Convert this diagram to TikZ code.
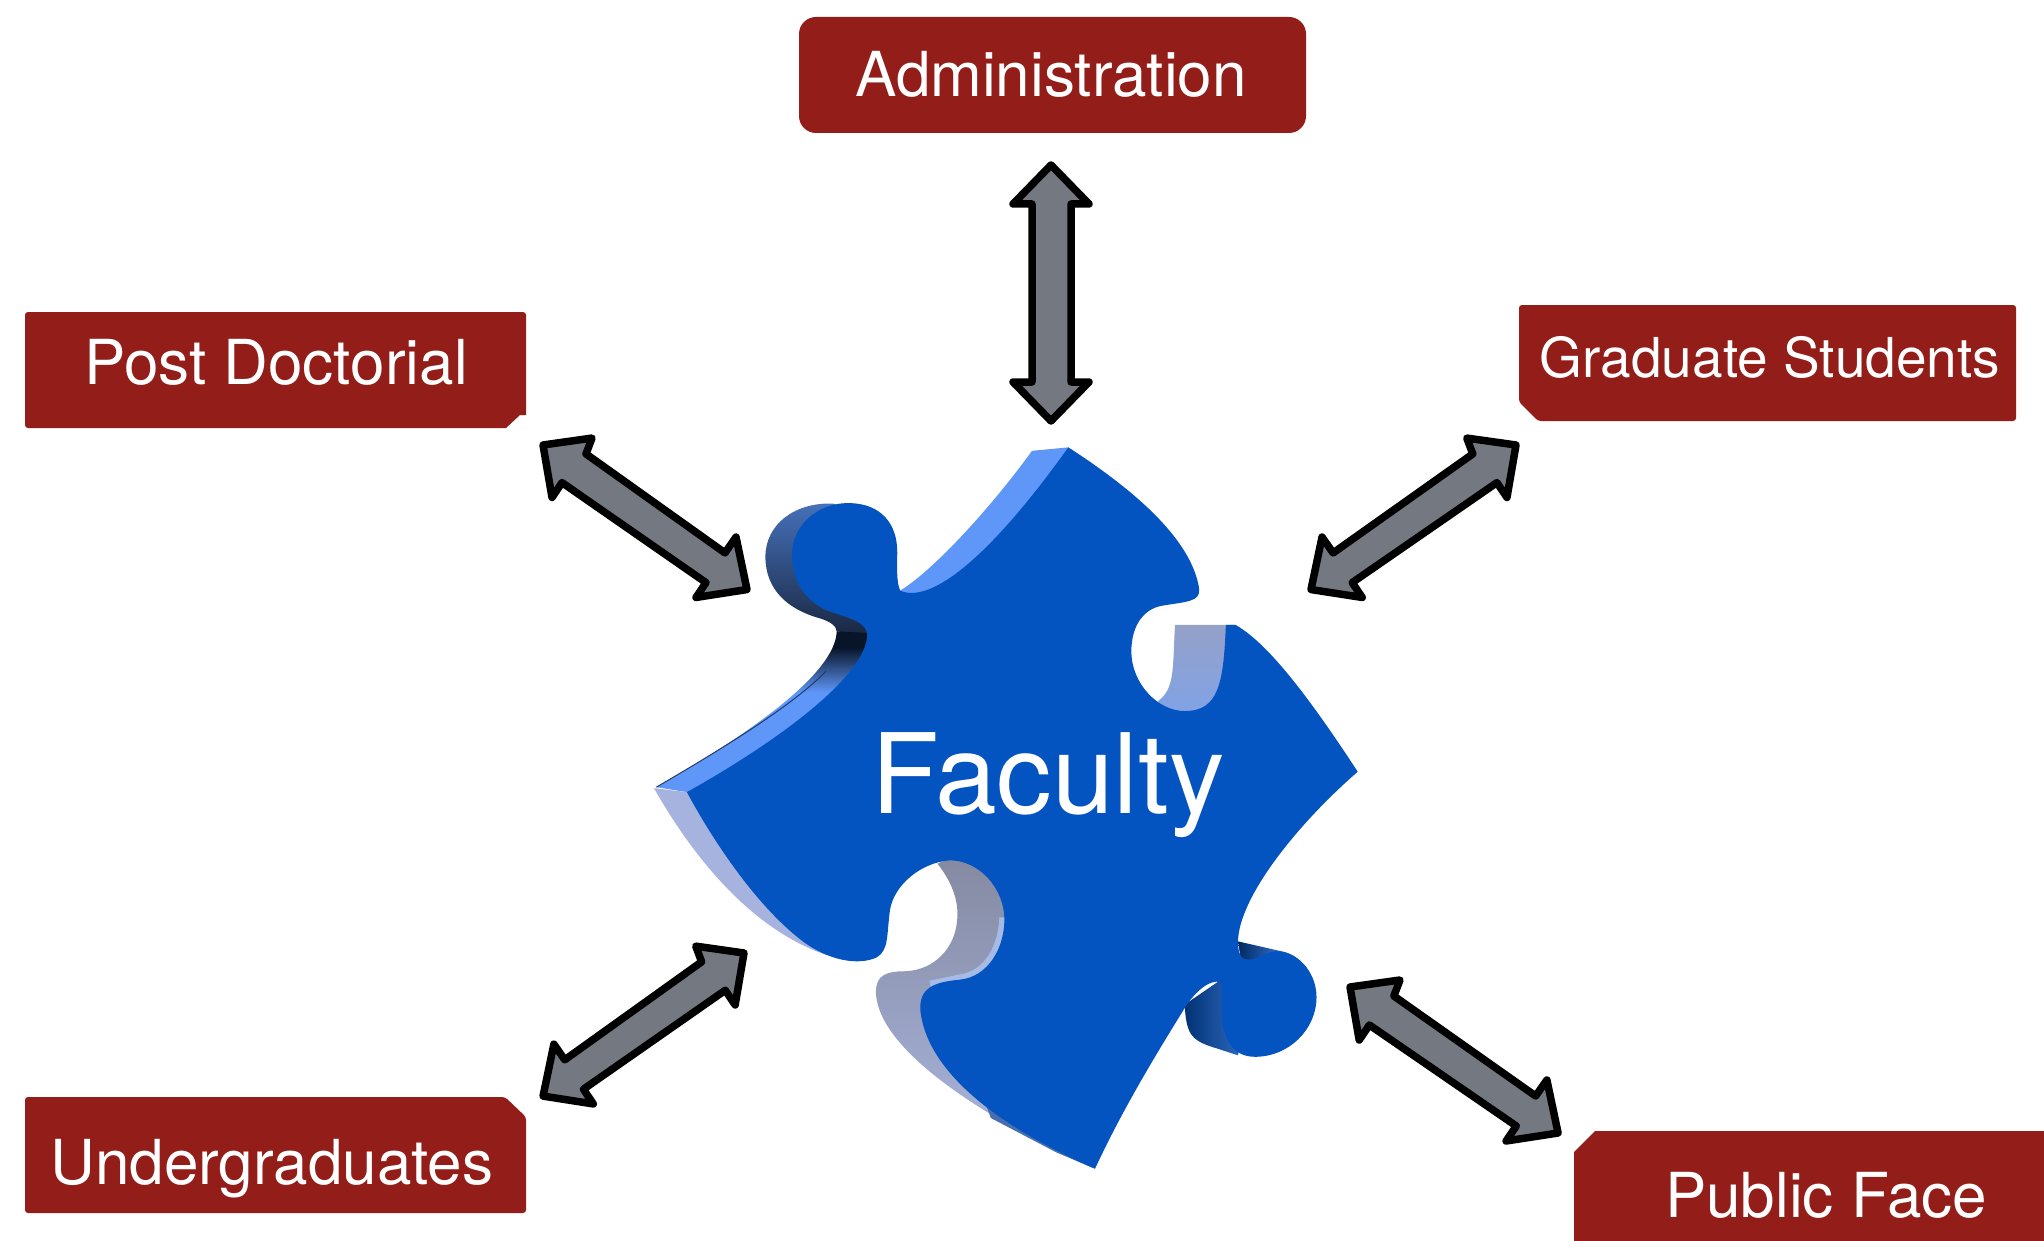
\documentclass[tikz,border=0pt]{standalone}
\usepackage{fontspec}
\setmainfont{TeX Gyre Heros}
\definecolor{boxred}{HTML}{931D18}
\definecolor{arrowgray}{HTML}{747880}
\definecolor{faceblue}{HTML}{0353C0}
\definecolor{wlight}{HTML}{5F97F9}
\definecolor{wdark}{HTML}{081428}
\definecolor{lav}{HTML}{A5B3DE}
\definecolor{notchtop}{HTML}{858AA2}
\definecolor{notchmid}{HTML}{95A2CF}
\definecolor{notchlow}{HTML}{AAB7E0}
\pgfdeclareverticalshading{wallUL}{100bp}{color(0bp)=(wlight);color(56bp)=(wlight);color(70bp)=(wdark);color(100bp)=(wdark)}
\tikzset{
  boxfill/.style={fill=boxred,draw=none,rounded corners=3pt},
  boxtext/.style={text=white,inner sep=0pt,anchor=base},
  blockarrow/.style={draw=black,fill=arrowgray,line width=7.5pt,line join=round}
}
% #1 start tip, #2 xscale, #3 yscale
\newcommand{\diagblock}[3]{%
  \begin{scope}[shift={(#1)},xscale=#2,yscale=#3]
    \path[blockarrow] (0,0) -- (49,-7) -- (43,9) -- (182,109) -- (193,93) -- (204,146)
      -- (153,154) -- (163,139) -- (19,38) -- (9,53) -- cycle;
  \end{scope}}
\begin{document}
\begin{tikzpicture}[x=1pt,y=-1pt]
\useasboundingbox (0,0) rectangle (2044,1241);
\fill[white] (0,0) rectangle (2044,1241);

% boxes
\path[fill=boxred,rounded corners=17pt] (799,17) rectangle (1306,133);
\node[boxtext,font=\fontsize{62}{70}\selectfont] (admin) at (1051,97) {Administration};

\path[boxfill] (25,312) -- (526,312) [sharp corners] -- (526,415) -- (520,415) -- (506,428) [rounded corners=3pt] -- (25,428) -- cycle;
\node[boxtext,font=\fontsize{62}{70}\selectfont] (post) at (276,384) {Post Doctorial};

\path[boxfill] (1519,305) -- (2016,305) -- (2016,421) -- (1538,421) -- (1519,402) -- cycle;
\node[boxtext,font=\fontsize{55}{64}\selectfont] (grad) at (1770,377) {Graduate Students};

\path[boxfill] (25,1097) -- (505,1097) -- (526,1117) -- (526,1213) -- (25,1213) -- cycle;
\node[boxtext,font=\fontsize{62}{70}\selectfont] (under) at (272,1184) {Undergraduates};

\path[fill=boxred] (1595,1131) -- (2044,1131) -- (2044,1241) -- (1574,1241) -- (1574,1152) -- cycle;
\node[boxtext,font=\fontsize{62}{70}\selectfont] (public) at (1826,1217) {Public Face};

% arrows
\coordinate (adminarrowtop) at (1051,165);
\coordinate (adminarrowbot) at (1051,421);
\path[blockarrow] (adminarrowtop) -- (1089,204) -- (1071,204) -- (1071,382) -- (1089,382)
  -- (adminarrowbot) -- (1013,382) -- (1032,382) -- (1032,204) -- (1013,204) -- cycle;
\coordinate (postarrow) at (543,445);
\diagblock{postarrow}{1.0}{0.99}
\coordinate (gradarrow) at (1516,445);
\diagblock{gradarrow}{-1.005}{0.99}
\coordinate (underarrow) at (744,953);
\diagblock{underarrow}{-0.985}{0.98}
\coordinate (publicarrow) at (1350,987);
\diagblock{publicarrow}{1.02}{1.0}

% puzzle piece
\begin{scope}[shift={(620,420)},x=0.4847pt,y=-0.4975pt]
  % top band
  \fill[wlight] (578,343) .. controls (650,300) and (770,170) .. (850,62) -- (925,55)
     -- (1000,200) -- (640,420) -- cycle;
  % upper-left tab wall
  \shade[top color=wlight!75!black,middle color=wlight,bottom color=wlight!25!black]
     (440,168) .. controls (360,165) and (300,210) .. (300,275)
     .. controls (300,340) and (345,380) .. (410,398)
     .. controls (435,405) and (447,415) .. (447,425)
     -- (560,440) -- (520,200) -- cycle;
  % lower-left wall (light, dark near the top)
  \shade[shading=wallUL]
     (447,425) .. controls (445,490) and (340,590) .. (75,738)
     -- (138,748) -- (400,700) -- (560,430) -- cycle;
  \draw[wdark!70!wlight,line width=1pt] (425,505) .. controls (360,570) and (230,650) .. (75,738);
  % left lavender wall
  \fill[lav] (70,740) .. controls (140,860) and (260,1020) .. (425,1075)
     -- (500,1000) -- (250,800) -- (138,748) -- cycle;
  % notch wall at the bottom, and the long lower wall
  \shade[top color=notchtop,middle color=notchmid,bottom color=notchlow]
     (655,892) .. controls (690,935) and (700,975) .. (695,1010)
     .. controls (690,1060) and (650,1105) .. (590,1108)
     .. controls (550,1108) and (528,1115) .. (528,1150)
     .. controls (530,1250) and (700,1380) .. (980,1505)
     -- (1000,1300) -- (880,1000) -- (850,900) -- (680,880) -- cycle;
  \fill[lav!50!faceblue!85!black] (755,1376) -- (765,1403) -- (900,1472) -- (975,1503) -- (850,1420) -- cycle;
  \draw[line width=8pt,draw=wlight!50!white,opacity=.7] (791,1000) .. controls (788,1060) and (760,1115) .. (700,1123) -- (640,1135);
  % right notch wall
  \shade[top color=lav!90!black,middle color=lav!60!black,bottom color=wlight!60!lav]
     (1145,412) .. controls (1140,500) and (1145,540) .. (1110,565)
     -- (1165,640) -- (1300,560) -- (1272,412) -- cycle;
  % lower-right tab walls
  \shade[left color=faceblue!60!black,right color=faceblue!70!lav]
     (1165,1175) .. controls (1168,1235) and (1180,1245) .. (1215,1258) -- (1275,1277)
     -- (1300,1150) -- (1240,1125) -- cycle;
  \shade[left color=faceblue!50!black,right color=wlight!60!faceblue]
     (1275,1048) -- (1365,1068) -- (1380,1120) -- (1285,1110) -- cycle;
  % face
  \fill[faceblue]
     (925,55) .. controls (1060,140) and (1180,240) .. (1195,340)
     .. controls (1197,365) and (1170,365) .. (1120,373)
     .. controls (1075,380) and (1055,420) .. (1055,465)
     .. controls (1055,530) and (1110,585) .. (1165,585)
     .. controls (1235,585) and (1245,530) .. (1250,412)
     -- (1270,412)
     .. controls (1340,450) and (1430,570) .. (1522,707)
     .. controls (1400,810) and (1275,960) .. (1275,1050)
     .. controls (1275,1085) and (1290,1088) .. (1310,1082)
     .. controls (1335,1072) and (1350,1065) .. (1365,1068)
     .. controls (1405,1075) and (1437,1115) .. (1437,1160)
     .. controls (1437,1225) and (1380,1280) .. (1310,1280)
     .. controls (1265,1280) and (1245,1245) .. (1242,1200)
     .. controls (1240,1170) and (1242,1150) .. (1240,1130)
     .. controls (1215,1122) and (1180,1155) .. (1160,1190)
     .. controls (1090,1300) and (1030,1400) .. (980,1505)
     .. controls (850,1450) and (640,1340) .. (620,1190)
     .. controls (615,1140) and (650,1130) .. (700,1125)
     .. controls (760,1120) and (793,1060) .. (793,1005)
     .. controls (793,940) and (740,885) .. (680,885)
     .. controls (620,890) and (565,935) .. (557,985)
     .. controls (550,1035) and (555,1065) .. (530,1080)
     .. controls (490,1098) and (430,1085) .. (380,1050)
     .. controls (290,985) and (200,860) .. (138,748)
     .. controls (300,660) and (510,520) .. (510,430)
     .. controls (505,400) and (455,395) .. (420,380)
     .. controls (375,355) and (355,320) .. (355,270)
     .. controls (355,210) and (410,167) .. (470,167)
     .. controls (540,167) and (572,210) .. (572,265)
     .. controls (572,300) and (570,325) .. (578,343)
     .. controls (640,370) and (760,280) .. (925,55)
     -- cycle;
\end{scope}
\node[boxtext,font=\fontsize{111}{120}\selectfont] (faculty) at (1048,813) {Faculty};
\end{tikzpicture}
\end{document}
